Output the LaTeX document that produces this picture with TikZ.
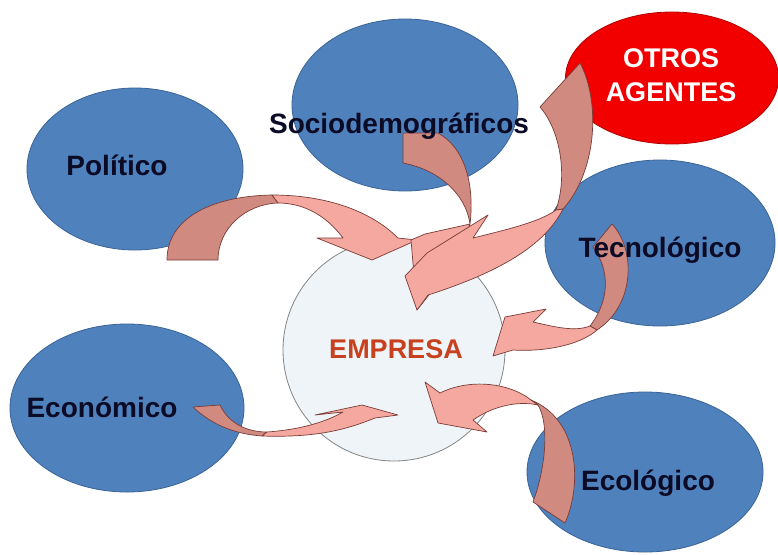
\documentclass[tikz,border=0pt]{standalone}
\usepackage{fontspec}
\setmainfont{Liberation Sans}
\usetikzlibrary{shapes.geometric}
\definecolor{ellblue}{HTML}{4F81BD}
\definecolor{ellblueedge}{HTML}{3A6496}
\definecolor{ellred}{HTML}{F20000}
\definecolor{ellrededge}{HTML}{B00000}
\definecolor{empfill}{HTML}{EEF4F8}
\definecolor{empedge}{HTML}{858585}
\definecolor{empcol}{HTML}{C8401E}
\definecolor{lblcol}{HTML}{0B0B26}
\definecolor{arrlight}{HTML}{F5A8A0}
\definecolor{arrdark}{HTML}{D08A80}
\definecolor{arredge}{HTML}{7A3C37}
\tikzset{
  bluee/.style={ellipse, fill=ellblue, draw=ellblueedge, line width=0.8pt, inner sep=0pt},
  rede/.style={ellipse, fill=ellred, draw=ellrededge, line width=0.8pt, inner sep=0pt},
  empc/.style={circle, fill=empfill, draw=empedge, line width=0.8pt, inner sep=0pt},
  lbl/.style={text=lblcol, font=\fontsize{28}{32}\selectfont\bfseries, inner sep=0pt},
  backside/.style={fill=arrdark, draw=arredge, line width=0.7pt, line join=round},
  frontside/.style={fill=arrlight, draw=arredge, line width=0.7pt, line join=round}
}
\begin{document}
\begin{tikzpicture}[x=1pt,y=-1pt]
\useasboundingbox (0,0) rectangle (778,554);
\fill[white] (0,0) rectangle (778,554);
% shapes
\node[empc, minimum size=222pt] (emp) at (394,350) {};
\node[bluee, minimum width=216pt, minimum height=162pt] (pol) at (135,169) {};
\node[bluee, minimum width=226pt, minimum height=172pt] (soc) at (405,105) {};
\node[rede, minimum width=213pt, minimum height=132pt] (otr) at (672,78) {};
\node[bluee, minimum width=230pt, minimum height=166pt] (tec) at (660,243) {};
\node[bluee, minimum width=234pt, minimum height=168pt] (eco) at (127,408) {};
\node[bluee, minimum width=236pt, minimum height=160pt] (ecl) at (645,472) {};
% arrow end points
\coordinate (pA) at (167,260); \coordinate (pB) at (218,260);
\coordinate (pTo) at (272,195); \coordinate (pTi) at (278,203);
\coordinate (pTip) at (372,260);
\coordinate (sA) at (403,133); \coordinate (sB) at (438,133);
\coordinate (sTw) at (470,224); \coordinate (sTip) at (417,310);
\coordinate (oA) at (540,107); \coordinate (oB) at (580,63);
\coordinate (oTo) at (563,209); \coordinate (oTi) at (556,210);
\coordinate (oTip) at (405,276);
\coordinate (tA) at (593,247); \coordinate (tB) at (612,224);
\coordinate (tTo) at (597,330); \coordinate (tTi) at (590,326);
\coordinate (tTip) at (505,317);
\coordinate (lA) at (533,502); \coordinate (lB) at (565,523);
\coordinate (lTo) at (531,400); \coordinate (lTi) at (538,405);
\coordinate (lTip) at (438,423);
\coordinate (cA) at (193,407); \coordinate (cB) at (220,405);
\coordinate (cTo) at (267,432); \coordinate (cTi) at (262,436);
\coordinate (cTip) at (362,405);
% Politico -> Empresa
\path[backside] (pA) .. controls (167,218) and (212,196) .. (pTo) -- (pTi)
  .. controls (246,204) and (218,228) .. (pB) -- cycle;
\path[frontside] (pTo) .. controls (328,195) and (372,212) .. (398,238) -- (417,240)
  -- (pTip) -- (317,238) -- (343,238) .. controls (325,214) and (302,203) .. (pTi) -- cycle;
% Sociodemograficos -> Empresa
\path[backside] (sA) -- (403,163) .. controls (440,170) and (466,195) .. (sTw)
  .. controls (474,190) and (468,150) .. (sB) -- cycle;
\path[frontside] (sTw) -- (425,234) -- (411,240) -- (sTip) -- (455,262) -- cycle;
% Otros agentes -> Empresa
\path[backside] (oA) -- (oB) .. controls (600,100) and (598,170) .. (oTo) -- (oTi)
  .. controls (568,175) and (560,130) .. (oA) -- cycle;
\path[frontside] (oTo) .. controls (545,245) and (500,272) .. (428,295) -- (sTip)
  -- (oTip) -- (427,253) -- (488,215) -- (473,238) .. controls (505,230) and (540,222) .. (oTi) -- cycle;
% Tecnologico -> Empresa
\path[backside] (tA) -- (tB) .. controls (636,250) and (635,305) .. (tTo) -- (tTi)
  .. controls (610,300) and (610,270) .. (tA) -- cycle;
\path[frontside] (tTo) .. controls (580,345) and (545,352) .. (513,350) -- (493,356)
  -- (tTip) -- (546,309) -- (533,322) .. controls (555,327) and (575,332) .. (tTi) -- cycle;
% Ecologico -> Empresa
\path[backside] (lA) -- (lB) .. controls (582,485) and (580,420) .. (lTo) -- (lTi)
  .. controls (550,425) and (545,470) .. (lA) -- cycle;
\path[frontside] (lTo) .. controls (510,383) and (470,378) .. (440,393) -- (425,382)
  -- (lTip) -- (487,432) -- (473,420) .. controls (490,408) and (515,400) .. (lTi) -- cycle;
% Economico -> Empresa
\path[backside] (cA) -- (cB) .. controls (228,422) and (245,432) .. (cTo) -- (cTi)
  .. controls (235,434) and (212,425) .. (cA) -- cycle;
\path[frontside] (cTo) .. controls (295,430) and (322,424) .. (343,412) -- (315,415)
  -- (cTip) -- (398,415) -- (375,418) .. controls (350,428) and (320,438) .. (cTi) -- cycle;
% labels
\node[lbl, anchor=base] (polt) at (117,175) {Político};
\node[lbl, anchor=base] (soct) at (399,133) {Sociodemográficos};
\node[lbl, text=white, align=center, font=\fontsize{27}{34}\selectfont\bfseries] (otrt) at (671,75) {OTROS\\AGENTES};
\node[lbl, anchor=base] (tect) at (660,257) {Tecnológico};
\node[lbl, anchor=base] (ecot) at (102,417) {Económico};
\node[lbl, anchor=base] (eclt) at (648,490) {Ecológico};
\node[lbl, anchor=base, text=empcol, font=\fontsize{27}{32}\selectfont\bfseries] (empt) at (396,358) {EMPRESA};
\end{tikzpicture}
\end{document}
